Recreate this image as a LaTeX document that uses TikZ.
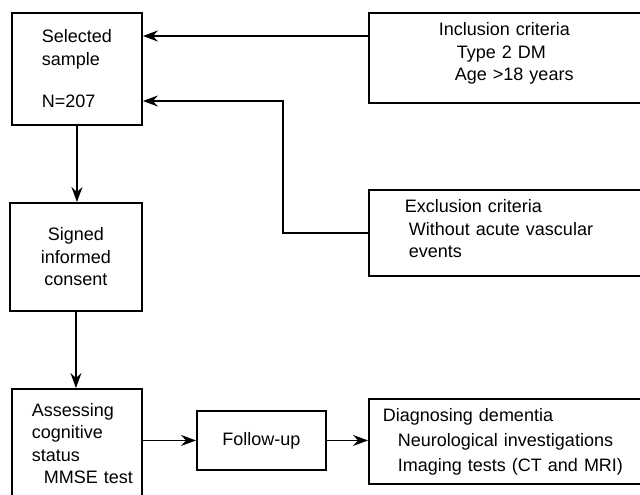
\documentclass[tikz,border=0pt]{standalone}
\usepackage{fontspec}
\setmainfont{Liberation Sans}
\usetikzlibrary{arrows.meta}
\begin{document}
\begin{tikzpicture}[line join=miter,>={Stealth[length=15pt,width=11pt,inset=5pt]},x=1pt,y=-1pt]
	\tikzset{box/.style={draw,line width=1.9pt,inner sep=0pt,anchor=north west,font=\fontsize{18}{22.5}\selectfont},
		arr/.style={->,line width=1.4pt}}
	\useasboundingbox (0,0) rectangle (640,495);
	\clip (0,0) rectangle (640,495);
	% left column
	\node[box,minimum width=130pt,minimum height=112pt,align=left] (sel) at (11,12) {Selected\\sample\\[20pt]N=207};
	\node[box,minimum width=132pt,minimum height=108pt,align=center] (cons) at (9,202) {Signed\\informed\\consent};
	\node[box,inner xsep=20pt,text width=90pt,minimum height=109pt,align=left] (assess) at (11,388) {Assessing\\cognitive\\status\\\hspace*{12pt}MMSE~test};
	\node[box,minimum width=129pt,minimum height=59pt] (follow) at (196,410) {Follow-up};
	% right column
	\node[box,inner xsep=70pt,text width=142pt,minimum height=90pt,align=left] (incl) at (368,12) {Inclusion criteria\\\hspace*{18pt}Type 2 DM\\\hspace*{16pt}Age >18 years\rule[-12pt]{0pt}{12pt}};
	\node[box,inner xsep=36pt,text width=210pt,minimum height=86pt,align=left] (excl) at (368,189) {Exclusion criteria\\\hspace*{4pt}Without~acute~vascular\\\hspace*{4pt}events\rule[-8pt]{0pt}{8pt}};
	\node[box,inner xsep=14pt,text width=254pt,minimum height=85pt,align=left,font=\fontsize{18}{25}\selectfont] (diag) at (368,398) {Diagnosing dementia\\\hspace*{15pt}Neurological~investigations\\\hspace*{15pt}Imaging~tests~(CT~and~MRI)};
	% connectors
	\coordinate (inY) at (0,36);
	\coordinate (exY) at (0,101);
	\coordinate (exX) at (283,0);
	\draw[arr] (incl.west |- inY) -- (sel.east |- inY);
	\draw[arr] (excl.west) -- (excl.west -| exX) |- (sel.east |- exY);
	\draw[arr] (sel.south) -- (sel.south |- cons.north);
	\draw[arr] (cons.south) -- (cons.south |- assess.north);
	\draw[arr] (assess.east |- follow.west) -- (follow.west);
	\draw[arr] (follow.east) -- (follow.east -| diag.west);
\end{tikzpicture}
\end{document}
